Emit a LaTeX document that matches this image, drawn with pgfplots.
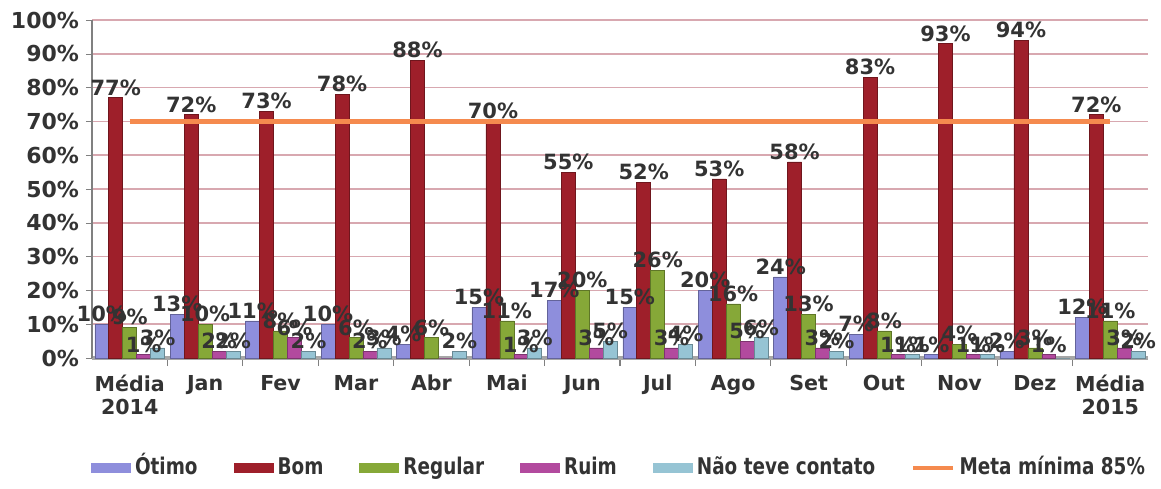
\documentclass[border=0pt]{standalone}
\usepackage{fontspec}
\setmainfont{DejaVu Sans}
\newfontfamily\legfont[FakeStretch=0.8]{DejaVu Sans}
\usepackage{pgfplots}
\pgfplotsset{compat=1.18}
\usepackage{pgfplotstable}

\definecolor{cotimo}{HTML}{8E8EDC}
\definecolor{cbom}{HTML}{9E1F2A}
\definecolor{creg}{HTML}{86A838}
\definecolor{cruim}{HTML}{B24A9E}
\definecolor{cnao}{HTML}{96C4D4}
\definecolor{cmeta}{HTML}{F58A4E}
\definecolor{cgrid}{HTML}{D8A8B0}
\definecolor{ctext}{HTML}{333333}

\pgfplotstableread{
x otimo bom regular ruim nao
0 10 77 9 1 3
1 13 72 10 2 2
2 11 73 8 6 2
3 10 78 6 2 3
4 4 88 6 0 2
5 15 70 11 1 3
6 17 55 20 3 5
7 15 52 26 3 4
8 20 53 16 5 6
9 24 58 13 3 2
10 7 83 8 1 1
11 1 93 4 1 1
12 2 94 3 1 0
13 12 72 11 3 2
}\data

\pgfplotsset{
  barlab/.style={
    nodes near coords={\pgfmathfloatifflags{\pgfplotspointmeta}{0}{}{\pgfmathprintnumber{\pgfplotspointmeta}\%}},
    nodes near coords style={font=\fontsize{10.5}{12}\selectfont\bfseries, text=ctext, inner sep=1pt},
  },
  barimg/.style={legend image code/.code={\path[##1,draw=none] (0pt,-2.6pt) rectangle (20pt,2.6pt);}},
}

\begin{document}
\begin{tikzpicture}
\useasboundingbox (-46pt,-65pt) rectangle (534.5pt,179pt);
\begin{axis}[
  scale only axis, width=528pt, height=169pt,
  xmin=-0.5, xmax=13.5, ymin=0, ymax=100,
  ybar=0pt, bar width=0.185,
  axis x line*=bottom, axis y line*=left,
  xtick={0,...,13},
  xticklabels={{Média\\2014},Jan,Fev,Mar,Abr,Mai,Jun,Jul,Ago,Set,Out,Nov,Dez,{Média\\2015}},
  xticklabel style={align=center, font=\fontsize{10.3}{11.5}\selectfont\bfseries, text=ctext, yshift=-2pt},
  major x tick style={draw=none},
  minor xtick={0.5,1.5,...,12.5},
  minor x tick style={gray, line width=0.6pt},
  tick align=outside, minor tick length=4pt, major tick length=3pt,
  ytick={0,10,...,100},
  yticklabels={0\%,10\%,20\%,30\%,40\%,50\%,60\%,70\%,80\%,90\%,100\%},
  yticklabel style={font=\fontsize{11}{12}\selectfont\bfseries, text=ctext},
  y tick style={gray},
  ymajorgrids, grid style={cgrid, line width=0.8pt},
  y axis line style={gray, line width=0.8pt},
  x axis line style={gray!70, line width=1.8pt},
  /pgf/number format/assume math mode=true,
  legend style={at={(0.5,-0.325)}, anchor=center, draw=none, fill=none,
    font=\legfont\fontsize{11.5}{13}\selectfont\bfseries, text=ctext,
    nodes={text height=9pt, text depth=2.5pt},
    /tikz/every even column/.append style={column sep=16pt}},
  legend columns=6, legend cell align=left,
  clip=false,
]
\addplot[fill=cotimo, draw=cotimo!70!black, line width=0.3pt, barlab, barimg] table[x=x,y=otimo]{\data};
\addlegendentry{Ótimo}
\addplot[fill=cbom, draw=cbom!70!black, line width=0.3pt, barlab, barimg] table[x=x,y=bom]{\data};
\addlegendentry{Bom}
\addplot[fill=creg, draw=creg!70!black, line width=0.3pt, barlab, barimg] table[x=x,y=regular]{\data};
\addlegendentry{Regular}
\addplot[fill=cruim, draw=cruim!70!black, line width=0.3pt, barlab, barimg] table[x=x,y=ruim]{\data};
\addlegendentry{Ruim}
\addplot[fill=cnao, draw=cnao!70!black, line width=0.3pt, barlab, barimg] table[x=x,y=nao]{\data};
\addlegendentry{Não teve contato}
\addplot[sharp plot, cmeta, line width=2.2pt, no marks,
  legend image code/.code={\draw[cmeta, line width=2.2pt] (0pt,0pt) -- (20pt,0pt);}]
  coordinates {(0,70) (1,70) (2,70) (3,70) (4,70) (5,70) (6,70) (7,70) (8,70) (9,70) (10,70) (11,70) (12,70) (13,70)};
\addlegendentry{Meta mínima 85\%}
\end{axis}
\end{tikzpicture}
\end{document}
